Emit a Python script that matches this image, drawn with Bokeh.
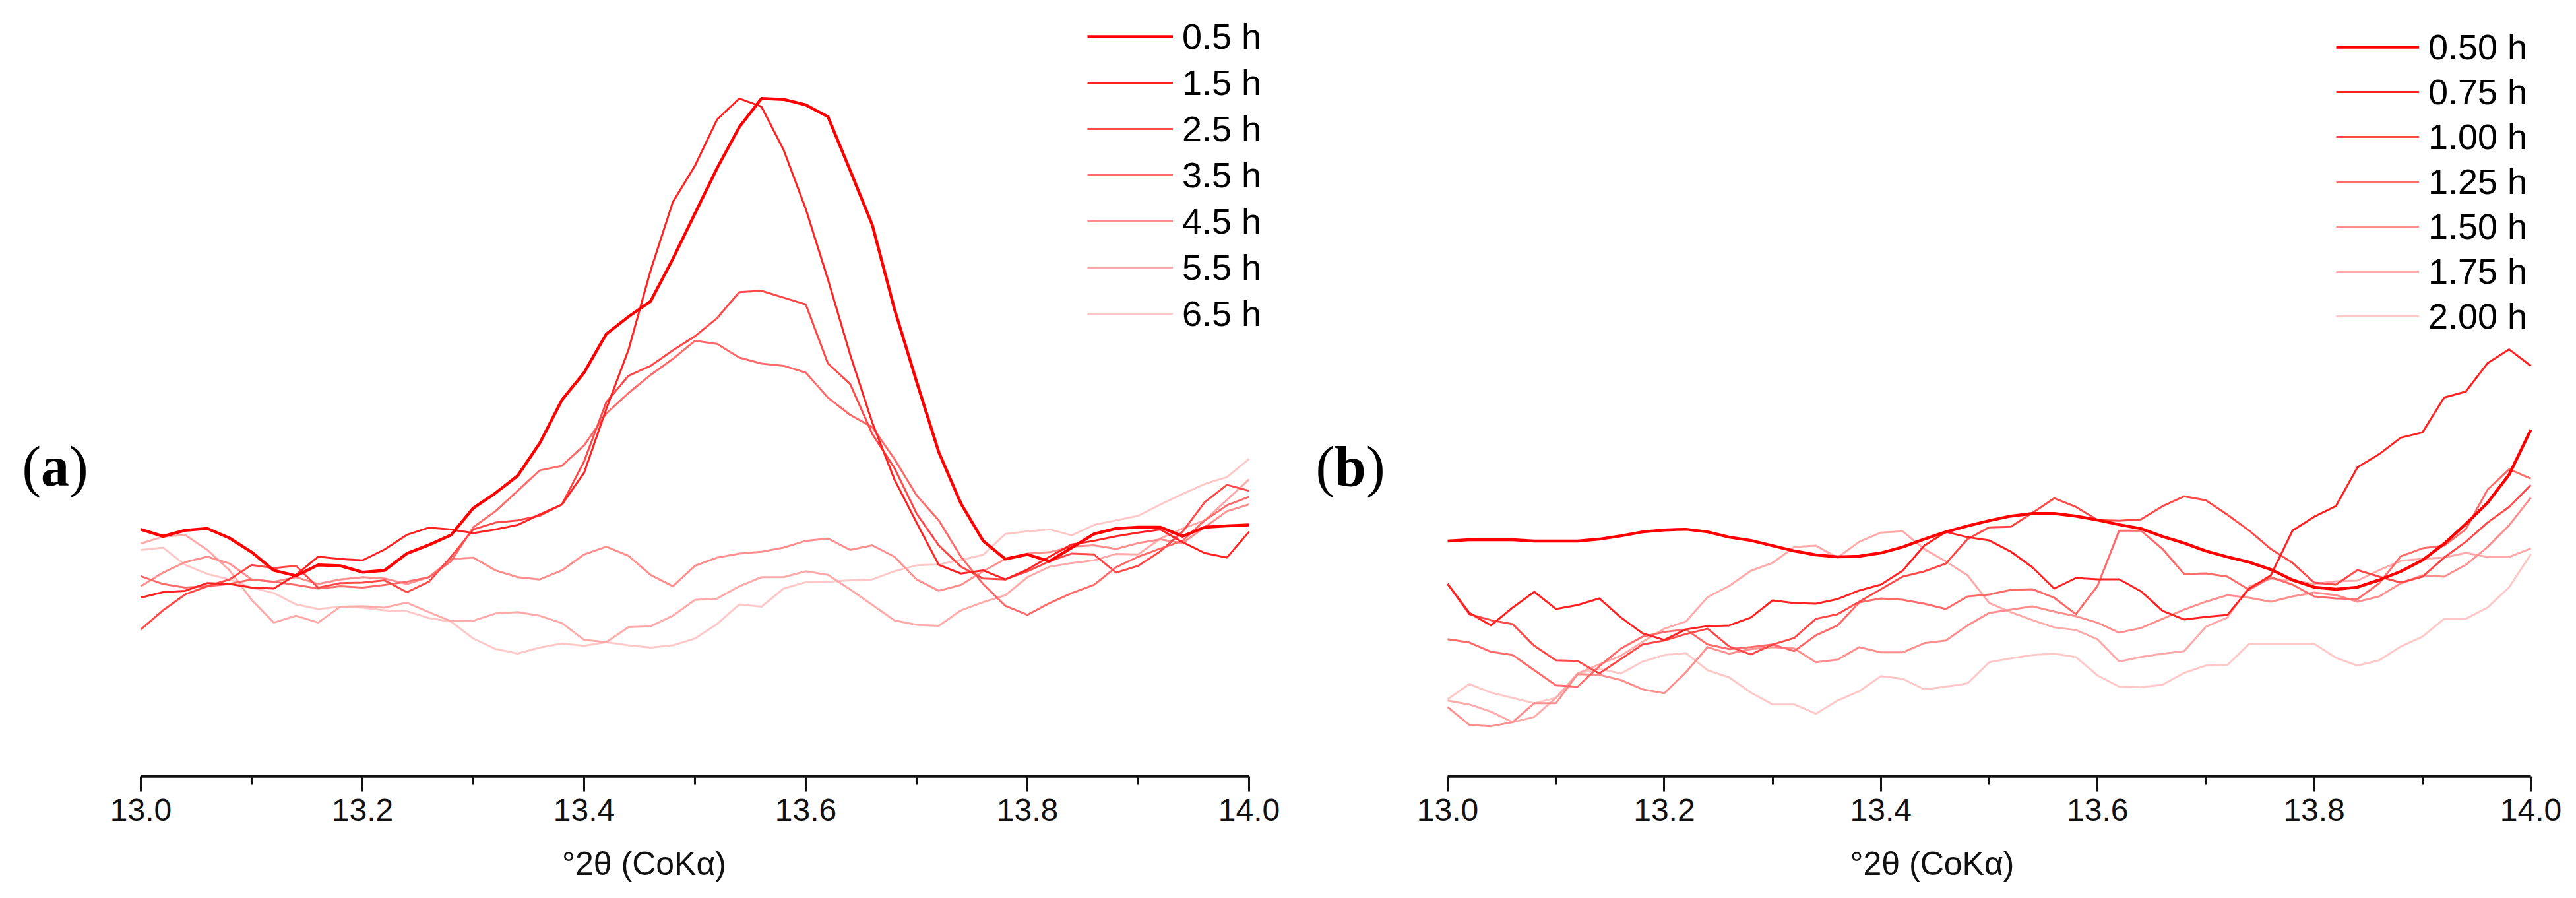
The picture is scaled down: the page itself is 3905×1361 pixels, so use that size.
from bokeh.plotting import figure
from bokeh.layouts import row
from bokeh.models import FixedTicker, NumeralTickFormatter, Legend, LegendItem, Label
from bokeh.embed import file_html
from bokeh.resources import INLINE

# ---------------- data ----------------
X_GRID = [13.00, 13.02, 13.04, 13.06, 13.08, 13.10, 13.12, 13.14, 13.16, 13.18,
          13.20, 13.22, 13.24, 13.26, 13.28, 13.30, 13.32, 13.34, 13.36, 13.38,
          13.40, 13.42, 13.44, 13.46, 13.48, 13.50, 13.52, 13.54, 13.56, 13.58,
          13.60, 13.62, 13.64, 13.66, 13.68, 13.70, 13.72, 13.74, 13.76, 13.78,
          13.80, 13.82, 13.84, 13.86, 13.88, 13.90, 13.92, 13.94, 13.96, 13.98, 14.00]

MAJOR_TICKS = [13.0, 13.2, 13.4, 13.6, 13.8, 14.0]
MINOR_TICKS = [13.1, 13.3, 13.5, 13.7, 13.9]
X_TITLE = "°2θ (CoKα)"

# panel (a): intensity, arbitrary units
A_LABELS = ["0.5 h", "1.5 h", "2.5 h", "3.5 h", "4.5 h", "5.5 h", "6.5 h"]
a_05 = [540, 525, 538, 542, 521, 490, 450, 438, 462, 460, 446, 450, 487, 506, 528, 587, 620, 658, 730, 825, 885, 970, 1008, 1042, 1135, 1235,
        1335, 1425, 1488, 1486, 1474, 1448, 1330, 1210, 1025, 865, 710, 597, 515, 475, 485, 470, 500, 530, 542, 545, 545, 525, 545, 548, 550]
a_15 = [390, 402, 405, 422, 420, 412, 410, 440, 480, 475, 472, 496, 528, 544, 540, 532, 540, 550, 573, 595, 665, 805, 935, 1110, 1260, 1340,
        1442, 1488, 1470, 1375, 1245, 1090, 925, 775, 650, 555, 462, 443, 450, 430, 452, 480, 507, 515, 525, 533, 540, 512, 488, 478, 535]
a_25 = [320, 362, 397, 415, 430, 462, 455, 460, 412, 422, 423, 428, 402, 425, 480, 540, 555, 560, 570, 595, 690, 820, 878, 900, 934, 965,
        1005, 1062, 1065, 1050, 1035, 905, 860, 750, 675, 575, 505, 458, 432, 430, 448, 470, 487, 485, 445, 460, 492, 535, 600, 638, 625]
a_35 = [437, 420, 412, 415, 420, 430, 425, 418, 410, 415, 412, 418, 425, 435, 470, 545, 580, 625, 670, 680, 725, 795, 840, 880, 915, 955,
        948, 918, 905, 900, 885, 830, 792, 765, 695, 615, 560, 480, 420, 372, 352, 378, 400, 418, 457, 480, 498, 515, 560, 593, 612]
a_45 = [415, 445, 468, 480, 465, 430, 425, 435, 420, 430, 435, 432, 420, 435, 475, 478, 450, 435, 430, 450, 485, 502, 482, 440, 415, 460,
        478, 487, 491, 500, 515, 520, 495, 505, 480, 430, 405, 418, 448, 475, 487, 490, 502, 505, 497, 510, 518, 510, 545, 580, 595]
a_55 = [509, 524, 528, 495, 450, 385, 335, 350, 335, 370, 371, 368, 379, 358, 338, 339, 355, 358, 350, 334, 297, 292, 325, 327, 350, 385,
        388, 415, 435, 435, 448, 440, 408, 374, 340, 330, 328, 362, 380, 395, 435, 458, 466, 472, 486, 485, 520, 542, 560, 605, 650]
a_65 = [495, 500, 462, 442, 430, 412, 400, 375, 365, 370, 368, 362, 360, 345, 337, 300, 277, 267, 280, 289, 284, 292, 285, 280, 285, 300,
        332, 375, 370, 410, 424, 425, 428, 430, 448, 461, 463, 473, 484, 530, 536, 540, 527, 550, 560, 570, 595, 618, 640, 655, 695]

# panel (b): intensity, arbitrary units
B_LABELS = ["0.50 h", "0.75 h", "1.00 h", "1.25 h", "1.50 h", "1.75 h", "2.00 h"]
b_050 = [354, 356, 356, 356, 354, 354, 354, 357, 362, 368, 371, 372, 368, 360, 355, 347, 339, 333, 330, 331, 336, 345, 357, 368, 377, 385,
         392, 396, 396, 392, 386, 379, 373, 361, 351, 339, 330, 322, 311, 295, 284, 281, 284, 295, 308, 325, 350, 380, 412, 455, 523]
b_075 = [289, 245, 226, 253, 277, 251, 257, 267, 238, 214, 204, 220, 225, 226, 238, 264, 260, 259, 266, 279, 288, 309, 347, 368, 360, 355,
         338, 314, 282, 298, 296, 296, 278, 248, 235, 239, 242, 282, 302, 370, 391, 407, 466, 486, 511, 519, 572, 581, 624, 645, 620]
b_100 = [289, 243, 234, 228, 195, 173, 172, 153, 175, 197, 203, 213, 221, 194, 182, 197, 207, 236, 243, 262, 281, 300, 308, 320, 357, 375,
         376, 397, 419, 406, 386, 385, 387, 407, 422, 416, 394, 370, 342, 321, 291, 288, 310, 300, 291, 300, 329, 353, 382, 406, 439]
b_125 = [205, 200, 186, 181, 158, 135, 133, 164, 191, 209, 216, 220, 197, 190, 193, 197, 187, 211, 226, 261, 267, 265, 259, 251, 270, 273,
         280, 281, 268, 243, 286, 370, 370, 342, 304, 305, 300, 280, 299, 288, 270, 267, 266, 290, 331, 343, 347, 372, 432, 463, 449]
b_150 = [102, 75, 73, 79, 108, 108, 152, 151, 143, 129, 123, 155, 193, 183, 190, 193, 191, 170, 174, 193, 185, 185, 199, 203, 226, 245,
         250, 255, 247, 240, 230, 215, 222, 236, 250, 262, 272, 268, 262, 270, 276, 272, 262, 270, 290, 302, 300, 318, 345, 378, 420]
b_175 = [112, 106, 95, 79, 87, 116, 153, 167, 180, 201, 221, 232, 269, 286, 309, 321, 345, 347, 329, 353, 367, 369, 342, 323, 302, 260,
         246, 234, 223, 219, 205, 171, 178, 183, 187, 224, 238, 285, 297, 294, 289, 293, 294, 310, 324, 327, 329, 336, 330, 330, 343]
b_200 = [114, 137, 124, 116, 108, 116, 153, 160, 153, 171, 181, 184, 158, 147, 124, 106, 106, 92, 112, 126, 149, 145, 129, 133, 138, 170,
         176, 181, 183, 178, 150, 133, 132, 136, 154, 165, 166, 198, 198, 198, 198, 177, 165, 173, 194, 209, 236, 236, 253, 284, 334]

COLORS = ["#ff0000", "#ff2222", "#ff4848", "#ff6a6a", "#ff8e8e", "#ffaaaa", "#ffc8c8"]
WIDTHS = [4.5, 3, 3, 3, 3, 3, 3]

FONT = "Liberation Sans"
SERIF = "Liberation Serif"
TAG_SIZE = "86px"
FRAME_BOTTOM = 1176   # px from top of page


def make_panel(width, x0_px, span_px, y_end, series, labels, leg_x, leg_y, leg_h, leg_w,
               tag, tag_x, tag_w):
    # frame covers the whole panel width; 13.0 sits at x0_px, 14.0 at x0_px + span_px
    xs = 13.0 - x0_px / span_px
    xe = 13.0 + (width - x0_px) / span_px
    p = figure(width=width, height=1361, x_range=(xs, xe), y_range=(-3, y_end),
               output_backend="svg", toolbar_location=None, y_axis_location=None,
               min_border_left=0, min_border_right=0, min_border_top=0,
               min_border_bottom=1361 - FRAME_BOTTOM)
    p.grid.visible = False
    p.outline_line_color = None
    p.background_fill_color = "white"
    p.border_fill_color = "white"

    ax = p.xaxis[0]
    ax.bounds = (13.0, 14.0)
    ax.ticker = FixedTicker(ticks=MAJOR_TICKS, minor_ticks=MINOR_TICKS)
    ax.formatter = NumeralTickFormatter(format="0.0")
    ax.axis_line_width = 4.5
    ax.axis_line_color = "#111111"
    ax.major_tick_in = 0
    ax.major_tick_out = 23
    ax.major_tick_line_width = 3
    ax.major_tick_line_color = "#111111"
    ax.minor_tick_in = 0
    ax.minor_tick_out = 12
    ax.minor_tick_line_width = 3
    ax.minor_tick_line_color = "#111111"
    ax.major_label_text_font = FONT
    ax.major_label_text_font_size = "48px"
    ax.major_label_text_color = "#111111"
    ax.major_label_standoff = 11
    ax.axis_label = X_TITLE
    ax.axis_label_text_font = FONT
    ax.axis_label_text_font_size = "50px"
    ax.axis_label_text_font_style = "normal"
    ax.axis_label_text_color = "#111111"
    ax.axis_label_standoff = 34

    items = []
    renderers = []
    for ys, lab, col, lw in zip(series, labels, COLORS, WIDTHS):
        r = p.line(X_GRID, ys, line_color=col, line_width=lw, line_join="round")
        renderers.append(r)
        items.append(LegendItem(label=lab, renderers=[r]))
    # thick first series drawn on top
    p.renderers = renderers[1:][::-1] + [renderers[0]]
    leg = Legend(items=items, location=(leg_x, leg_y), orientation="vertical",
                 padding=0, margin=0, spacing=0, glyph_width=leg_w, glyph_height=leg_h,
                 label_height=leg_h, label_standoff=14, label_text_font=FONT,
                 label_text_font_size="54px", label_text_color="black",
                 border_line_alpha=0, background_fill_alpha=0)
    p.add_layout(leg)

    ty = FRAME_BOTTOM - 706
    common = dict(y=ty, x_units="screen", y_units="screen", text_font=SERIF,
                  text_font_size=TAG_SIZE, text_baseline="middle", text_color="black")
    p.add_layout(Label(x=tag_x, text="(", **common))
    p.add_layout(Label(x=tag_x + 28.6, text=tag, text_font_style="bold", **common))
    p.add_layout(Label(x=tag_x + 28.6 + tag_w, text=")", **common))
    return p


pa = make_panel(1952, 213, 1680, 1704,
                [a_05, a_15, a_25, a_35, a_45, a_55, a_65], A_LABELS,
                1648, 666, 70, 130, "a", 33, 43)
pb = make_panel(1953, 242, 1642, 1175,
                [b_050, b_075, b_100, b_125, b_150, b_175, b_200], B_LABELS,
                3541 - 1952, 663, 68, 126, "b", 1994 - 1952, 48)

layout = row(pa, pb)
open("out.html", "w").write(file_html(layout, INLINE))
